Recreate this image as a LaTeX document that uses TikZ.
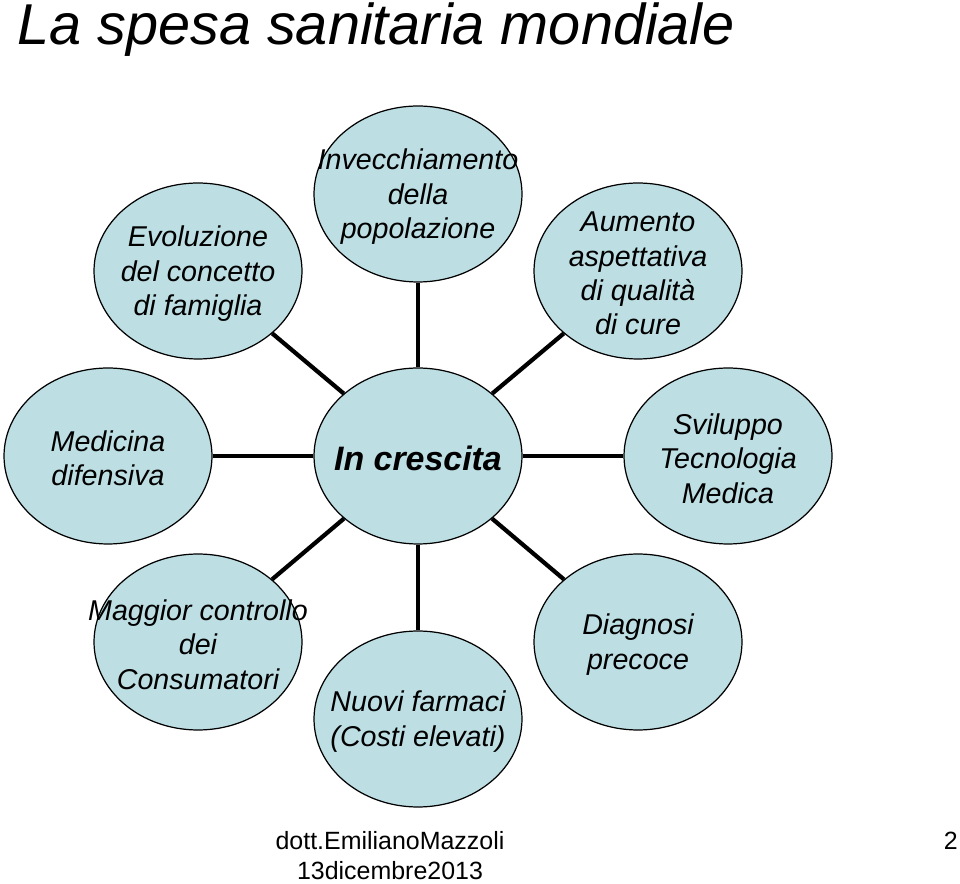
\documentclass[tikz,border=0pt]{standalone}
\usepackage{fontspec}
\setmainfont{Liberation Sans}
\usetikzlibrary{shapes.geometric}
\definecolor{bubblefill}{RGB}{189,223,228}
\tikzset{
  bubble/.style={ellipse, draw, line width=0.7pt, fill=bubblefill,
    minimum width=4.16cm, minimum height=3.52cm, inner sep=0pt},
  bubbletext/.style={align=center, inner sep=0pt, yshift=-1.5pt,
    font=\itshape\fontsize{16.3}{19.5}\selectfont},
  spoke/.style={line width=2.4pt},
  footer/.style={inner sep=0pt, font=\fontsize{14.2}{17}\selectfont}
}
\begin{document}
\begin{tikzpicture}[x=0.02cm,y=-0.02cm]
  \useasboundingbox (0,0) rectangle (960,884); % page
  \node[anchor=base west, inner sep=0pt, font=\itshape\fontsize{32.8}{36}\selectfont] (title) at (17,45) {La spesa sanitaria mondiale}; % title
  \node[bubble, label={[bubbletext]center:{\bfseries\fontsize{19.3}{23}\selectfont In crescita}}] (crescita) at (418,456) {}; % centre
  \node[bubble, label={[bubbletext]center:{Invecchiamento\\della\\popolazione}}] (invecchiamento) at (418,194) {};
  \node[bubble, label={[bubbletext]center:{Evoluzione\\del concetto\\di famiglia}}] (famiglia) at (198,271) {};
  \node[bubble, label={[bubbletext]center:{Aumento\\aspettativa\\di qualità\\di cure}}] (aspettativa) at (638,271) {};
  \node[bubble, label={[bubbletext]center:{Medicina\\difensiva}}] (medicina) at (108,456) {};
  \node[bubble, label={[bubbletext]center:{Sviluppo\\Tecnologia\\Medica}}] (tecnologia) at (728,456) {};
  \node[bubble, label={[bubbletext]center:{Maggior controllo\\dei\\Consumatori}}] (consumatori) at (198,642) {};
  \node[bubble, label={[bubbletext]center:{Nuovi farmaci\\(Costi elevati)}}] (farmaci) at (418,719) {};
  \node[bubble, label={[bubbletext]center:{Diagnosi\\precoce}}] (diagnosi) at (638,642) {};
  % spokes from the centre
  \foreach \outer in {invecchiamento,famiglia,aspettativa,medicina,tecnologia,consumatori,farmaci,diagnosi}
    \draw[spoke] (crescita) -- (\outer);
  % footer
  \node[footer, anchor=base] (autore) at (390,849) {dott.EmilianoMazzoli};
  \node[footer, anchor=base] (data) at (390,879) {13dicembre2013};
  \node[footer, anchor=base east] (pagina) at (958,849) {2};
\end{tikzpicture}
\end{document}
